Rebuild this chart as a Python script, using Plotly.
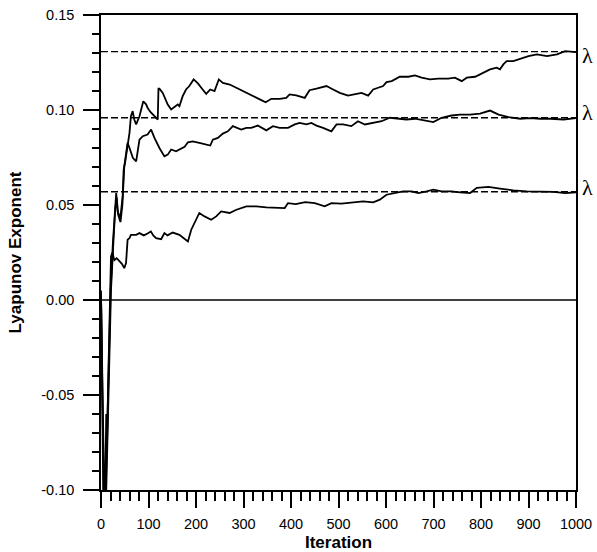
import plotly.graph_objects as go

# ---- data ----
a_x = [0, 3, 7, 10, 15, 20, 25, 30, 32, 35, 40.7, 45.6, 47.7, 50.6, 56, 60, 63, 66.7, 70, 74, 81, 89, 95, 98, 104, 109, 115, 119.5,
       121, 123, 130, 140.5, 147.7, 155, 161.6, 165, 172, 179, 186, 195, 204, 214, 221.5, 230, 239, 248, 256.5, 271, 288,
       306, 323, 337.5, 346.6, 358.6, 376, 390, 397, 411, 429, 439, 453.6, 464, 474.7, 488.6, 502.7, 520, 538, 548.5,
       562.5, 573, 583.5, 594, 601, 612, 629, 647, 661, 675, 692.6, 710, 731, 745, 759.5, 770, 787.6, 805, 819, 833,
       840, 847, 854, 868, 882.5, 900, 917.7, 939, 960, 977, 1000]
a_y = [0.005, -0.12, -0.15, -0.10, -0.05, 0.004, 0.03, 0.05, 0.0563, 0.0466, 0.0431, 0.0545, 0.0686, 0.0722, 0.081, 0.088,
       0.0967, 0.0994, 0.095, 0.0924, 0.0967, 0.1046, 0.103, 0.1012, 0.099, 0.0976, 0.096, 0.095,
       0.1112, 0.1112, 0.109, 0.1029, 0.1003, 0.1015, 0.1029, 0.102, 0.1073, 0.1108, 0.1126, 0.1161, 0.114, 0.1108,
       0.1085, 0.1108, 0.110, 0.1161, 0.1143, 0.1134, 0.1112, 0.109, 0.107, 0.1052, 0.1041, 0.1059, 0.1059, 0.1064,
       0.1082, 0.1077, 0.1064, 0.1104, 0.1112, 0.1117, 0.1126, 0.1108, 0.109, 0.1076, 0.1087, 0.109, 0.1076, 0.1108,
       0.1117, 0.1126, 0.1147, 0.1152, 0.1175, 0.1175, 0.1182, 0.117, 0.1161, 0.1165, 0.1165, 0.117, 0.1152, 0.117,
       0.1175, 0.1196, 0.1214, 0.1223, 0.1214, 0.124, 0.1257, 0.1257, 0.127, 0.1284, 0.1293, 0.1284, 0.1293, 0.131,
       0.1305]

b_x = [0, 4, 8, 11, 16, 21, 26, 30, 33, 36, 41, 45, 49, 52, 56, 60, 67, 74, 81, 88, 98, 105.5, 112.5, 123, 133.5, 140.5,
       147.7, 158, 165, 176, 183, 193, 207, 221.5, 230, 235.5, 246, 256.5, 267, 277.6, 288, 295, 306, 316, 330, 348,
       362, 376, 393.7, 408, 418, 432.5, 443, 453.6, 467.5, 485, 495.8, 509.7, 527, 541, 555.5, 573, 590.7, 608,
       625.7, 643, 661, 682, 699.6, 717, 738, 756, 777, 798, 819, 837, 858, 882.5, 903.6, 924.7, 946, 974, 1000]
b_y = [0.003, -0.13, -0.14, -0.10, -0.045, 0.005, 0.03, 0.048, 0.054, 0.045, 0.041, 0.05, 0.0704, 0.075, 0.0827, 0.080,
       0.0748, 0.073, 0.0844, 0.0862, 0.0871, 0.0897, 0.0853, 0.080, 0.0756, 0.0765, 0.0792, 0.0783, 0.0792, 0.0806,
       0.083, 0.0835, 0.0827, 0.0818, 0.0813, 0.0844, 0.0853, 0.0876, 0.0888, 0.0915, 0.0906, 0.0897, 0.0906, 0.0906,
       0.0918, 0.0893, 0.0915, 0.0906, 0.0906, 0.0924, 0.0932, 0.0924, 0.0932, 0.0918, 0.0906, 0.0888, 0.0924,
       0.0924, 0.0915, 0.0941, 0.0924, 0.0932, 0.0941, 0.0959, 0.0954, 0.095, 0.0954, 0.0946, 0.0936, 0.0959,
       0.0971, 0.0976, 0.0976, 0.0981, 0.0997, 0.0976, 0.0962, 0.0954, 0.0957, 0.0954, 0.0954, 0.095, 0.0957]

c_x = [0, 4, 8, 11, 12.5, 15, 18, 21, 24, 28, 33, 38.6, 44, 49, 52.7, 56, 60, 63, 74, 81, 90, 98, 105, 110, 116, 126.6,
       133.5, 140, 151, 165, 179, 183, 190, 200, 207, 218, 232, 242.6, 253, 270.7, 285, 306, 327, 348, 369, 386.7,
       393.7, 410, 430, 450, 471, 485, 506, 527, 552, 573, 587, 601, 619, 636, 654, 668, 685.6, 699.6, 717, 738, 756,
       777, 791, 815.6, 840, 868, 896.6, 924.7, 953, 977, 1000]
c_y = [0.002, -0.09, -0.12, -0.06, -0.079, -0.045, -0.01, 0.023, 0.025, 0.021, 0.022, 0.0203, 0.019, 0.0168, 0.0194,
       0.0317, 0.0326, 0.0343, 0.0343, 0.0352, 0.034, 0.035, 0.0361, 0.034, 0.0326, 0.032, 0.0352, 0.034, 0.0355,
       0.0343, 0.0317, 0.0308, 0.037, 0.0422, 0.0458, 0.044, 0.0422, 0.044, 0.0466, 0.0458, 0.0475, 0.0493, 0.0493,
       0.0487, 0.0484, 0.0484, 0.051, 0.0505, 0.0515, 0.051, 0.0493, 0.051, 0.0507, 0.0514, 0.0519, 0.0514, 0.0528,
       0.0554, 0.0563, 0.0572, 0.0572, 0.0563, 0.0572, 0.0581, 0.0572, 0.0572, 0.0567, 0.0563, 0.059, 0.0595,
       0.0586, 0.0577, 0.0572, 0.0572, 0.0569, 0.0563, 0.0567]

limits = [0.1307, 0.0959, 0.057]
limit_labels = ["λ", "λ", "λ"]
x_range = [0, 1000]
y_range = [-0.10, 0.15]
y_ticks = [-0.10, -0.05, 0.00, 0.05, 0.10, 0.15]
x_ticks = list(range(0, 1001, 100))

fig = go.Figure()

for v in limits:
    fig.add_trace(go.Scatter(x=x_range, y=[v, v], mode="lines",
                             line=dict(color="black", width=1.4, dash="7px,3px"),
                             showlegend=False, hoverinfo="skip"))

fig.add_trace(go.Scatter(x=x_range, y=[0, 0], mode="lines",
                         line=dict(color="black", width=1.3), showlegend=False, hoverinfo="skip"))

for xs, ys in [(a_x, a_y), (b_x, b_y), (c_x, c_y)]:
    fig.add_trace(go.Scatter(x=xs, y=ys, mode="lines",
                             line=dict(color="black", width=1.8),
                             showlegend=False))

shifts = [-4, 5, 4]
for v, lab, s in zip(limits, limit_labels, shifts):
    fig.add_annotation(x=1, xref="paper", y=v, yref="y", text=lab, showarrow=False,
                       xanchor="left", yanchor="middle", xshift=4, yshift=s,
                       font=dict(family="Liberation Serif, Times New Roman, serif", size=22, color="black"))

tickfont = dict(family="Liberation Sans, Arial, sans-serif", size=14.5, color="black")
titlefont = dict(family="Liberation Sans, Arial, sans-serif", size=17, color="black")

fig.update_xaxes(range=x_range, tickvals=x_ticks, ticks="outside", ticklen=16, tickwidth=1.5,
                 tickcolor="black", showline=True, linecolor="black", linewidth=1.5, mirror=True,
                 showgrid=False, zeroline=False, tickfont=tickfont, automargin=False,
                 ticklabelstandoff=4,
                 minor=dict(dtick=20, ticks="outside", ticklen=9, tickwidth=1.5, tickcolor="black", showgrid=False),
                 title=dict(text="<b>Iteration</b>", font=titlefont, standoff=5))
fig.update_yaxes(range=y_range, tickvals=y_ticks, ticktext=[f"{t:.2f}" for t in y_ticks],
                 ticks="outside", ticklen=16, tickwidth=1.5,
                 tickcolor="black", showline=True, linecolor="black", linewidth=1.5, mirror=True,
                 showgrid=False, zeroline=False, tickfont=tickfont, automargin=False,
                 ticklabelstandoff=6,
                 minor=dict(dtick=0.01, tick0=0, ticks="outside", ticklen=7, tickwidth=1.5, tickcolor="black",
                            showgrid=False),
                 title=dict(text="<b>Lyapunov Exponent</b>", font=titlefont, standoff=15))

fig.update_layout(width=597, height=552, margin=dict(l=101, r=21, t=15, b=62),
                  plot_bgcolor="white", paper_bgcolor="white", showlegend=False)

fig.write_html("out.html")
